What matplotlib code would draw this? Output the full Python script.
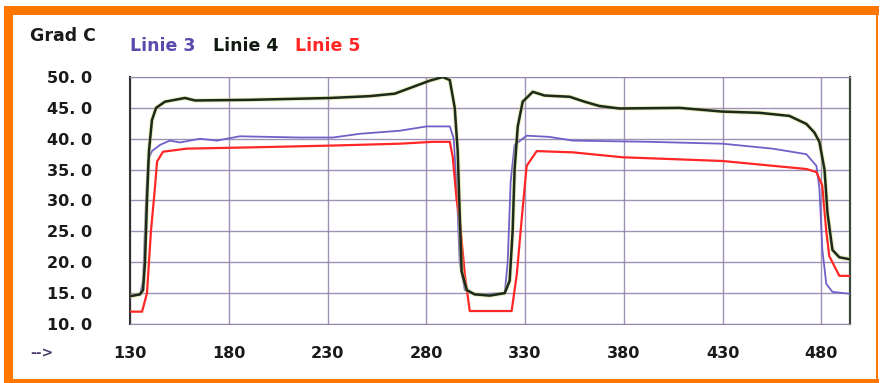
import matplotlib.pyplot as plt
import matplotlib.patheffects as pe
from matplotlib.patches import Rectangle

# time values and temperatures
t_linie3 = [130, 135.1, 136.6, 138.1, 139.1, 141.1, 145.2, 150.2, 155.3, 165.4, 174.0,
            185.6, 216.0, 232.7, 246.3, 266.6, 280.2, 291.9, 293.9, 295.4, 296.9,
            299.5, 304.5, 319.7, 321.2, 322.7, 324.7, 330.8, 342.4, 354.1, 393.0,
            429.9, 455.2, 472.4, 477.5, 479.0, 480.5, 482.5, 485.6, 494.2]
linie3 = [14.5, 14.8, 17, 30, 36.5, 38, 39, 39.7, 39.4, 40, 39.7,
          40.4, 40.2, 40.2, 40.8, 41.3, 42.0, 42.0, 40, 32, 20,
          15.5, 14.8, 15.0, 20, 33, 39, 40.5, 40.3, 39.7, 39.5,
          39.2, 38.4, 37.5, 35.6, 32, 22, 16.5, 15.2, 14.9]

t_linie4 = [130, 135.1, 136.6, 137.6, 138.6, 139.6, 141.1, 143.2, 147.7, 157.8, 162.9,
            190.7, 231.2, 251.4, 264.0, 271.6, 281.7, 288.3, 291.9, 294.4, 295.9,
            296.9, 297.9, 300.5, 304.5, 312.1, 319.7, 322.2, 323.7, 324.7, 326.3,
            328.8, 333.9, 339.9, 352.6, 360.1, 367.7, 377.8, 408.2, 429.9, 448.7,
            463.8, 472.4, 476.5, 479.0, 481.6, 483.1, 485.6, 489.1, 494.2]
linie4 = [14.5, 14.8, 15.5, 20, 30, 38, 43, 45, 46, 46.6, 46.2,
          46.3, 46.6, 46.9, 47.3, 48.2, 49.4, 50.0, 49.5, 45, 38,
          28, 18.5, 15.5, 14.8, 14.6, 15.0, 17, 25, 35, 42,
          46, 47.6, 47.0, 46.8, 46.0, 45.3, 44.9, 45.0, 44.4, 44.2,
          43.7, 42.4, 41, 39.5, 35, 28, 22, 20.8, 20.5]

t_linie5 = [130, 136.1, 138.6, 140.6, 142.6, 143.7, 146.7, 158.8, 190.7, 232.7, 266.6,
            283.3, 291.9, 293.4, 295.4, 296.9, 299.5, 302.0, 323.2, 325.8, 328.3,
            330.8, 335.9, 354.1, 379.4, 429.9, 472.4, 477.5, 480.5, 482.5, 484.0,
            489.1, 494.2]
linie5 = [12, 12, 15, 25, 32, 36.3, 37.9, 38.4, 38.6, 38.9, 39.2,
          39.5, 39.5, 37, 30, 27, 18, 12.1, 12.1, 18, 27,
          35.6, 38, 37.8, 37, 36.4, 35.1, 34.6, 32.4, 25, 21,
          17.8, 17.8]

x_ticks = [130, 180, 230, 280, 330, 380, 430, 480]
y_ticks = [10, 15, 20, 25, 30, 35, 40, 45, 50]

purple = '#7060c8'
dark = '#1c2a1c'
red = '#ff2626'
orange = '#ff7700'
grid_col = '#9585ad'

fig = plt.figure(figsize=(8.8, 3.83), dpi=100)
W, H = 880, 383


def fig_rect(x0, y0, x1, y1):
    # pixel box (top-left origin) -> figure coords rectangle
    return Rectangle((x0 / W, 1 - y1 / H), (x1 - x0) / W, (y1 - y0) / H,
                     transform=fig.transFigure, facecolor=orange,
                     edgecolor='none', lw=0, zorder=0)


# orange frame: thick on top/left, thin on right/bottom
fig.patches.extend([
    fig_rect(4, 6, 879, 15),
    fig_rect(4, 6, 13, 383),
    fig_rect(876, 6, 878, 383),
    fig_rect(4, 379, 879, 383),
])

ax = fig.add_axes([130 / W, 1 - 324 / H, (850 - 130) / W, (324 - 77) / H])
ax.plot(t_linie3, linie3, color=purple, lw=1.3, zorder=3)
ax.plot(t_linie5, linie5, color=red, lw=1.6, zorder=3)
# scanned black trace has a faint yellow fringe
ax.plot(t_linie4, linie4, color=dark, lw=1.8, zorder=4,
        path_effects=[pe.Stroke(linewidth=3.2, foreground='#d8d870', alpha=0.45), pe.Normal()])

ax.set_xlim(130, 494.5)
ax.set_ylim(10, 50)
ax.set_xticks(x_ticks)
ax.set_yticks(y_ticks)
ax.set_xticklabels([str(v) for v in x_ticks])
ax.set_yticklabels([f'{v}. 0' for v in y_ticks])
ax.tick_params(length=0, labelsize=11.5)
for lab in ax.get_xticklabels() + ax.get_yticklabels():
    lab.set_fontweight('bold')
    lab.set_color('#1a1a1a')
ax.tick_params(axis='y', pad=27)
ax.tick_params(axis='x', pad=16)

ax.grid(True, color=grid_col, lw=1.0, alpha=0.9)
ax.set_axisbelow(True)
ax.spines['left'].set_color('#333333')
ax.spines['left'].set_linewidth(1.5)
ax.spines['right'].set_color('#3a4a3a')
ax.spines['right'].set_linewidth(1.6)
ax.spines['top'].set_color(grid_col)
ax.spines['bottom'].set_color(grid_col)

fig.text(30 / W, 1 - 36 / H, 'Grad C', fontsize=12.5, fontweight='bold',
         color='#1a1a1a', va='center')
fig.text(130 / W, 1 - 46 / H, 'Linie 3', fontsize=12.5, fontweight='bold',
         color='#5a4aac', va='center')
fig.text(213 / W, 1 - 46 / H, 'Linie 4', fontsize=12.5, fontweight='bold',
         color='#111a11', va='center')
fig.text(295 / W, 1 - 46 / H, 'Linie 5', fontsize=12.5, fontweight='bold',
         color=red, va='center')
fig.text(30 / W, 1 - 353 / H, '-->', fontsize=10, fontweight='bold',
         color='#4a3a6a', va='center')

fig.savefig('out.png', dpi=100)
